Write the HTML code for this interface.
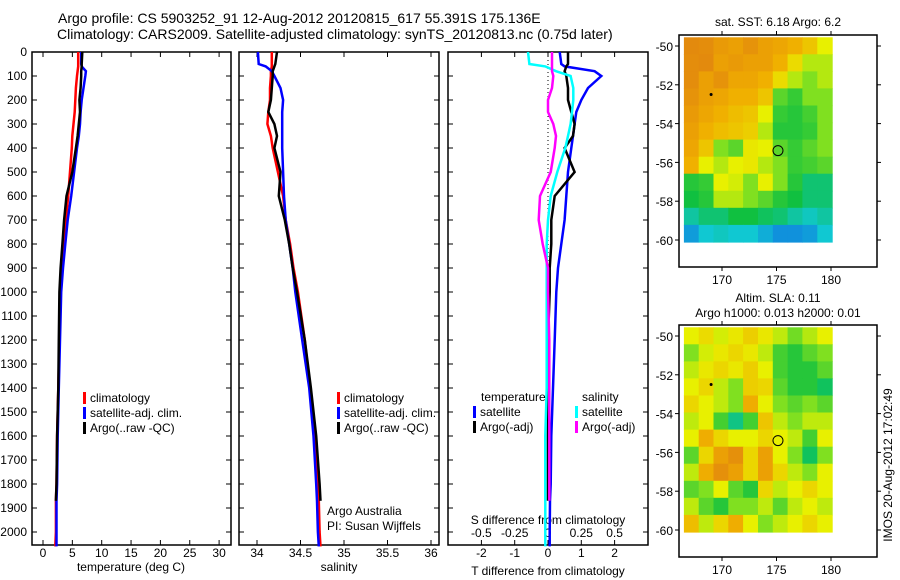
<!DOCTYPE html>
<html><head><meta charset="utf-8"><style>
body{margin:0;background:#fff;}
svg{display:block;font-family:"Liberation Sans",sans-serif;}
text{font-size:12px;fill:#000;}
</style></head><body>
<svg id="c" width="900" height="580" viewBox="0 0 900 580"></svg>
<script>
// ---- data ----
const depths = [0,50,60,80,100,150,200,250,300,350,400,500,600,700,800,900,1000,1200,1400,1600,1800,1870,2000,2060];
const tempClim = [6.0,6.0,6.0,5.9,5.8,5.6,5.5,5.4,5.2,5.0,4.9,4.6,4.3,3.9,3.5,3.2,3.0,2.8,2.6,2.4,2.3,2.2,2.2,2.1];
const tempSat  = [6.5,6.5,6.6,7.3,7.2,6.9,6.6,6.4,6.3,6.1,5.8,5.3,4.8,4.2,3.8,3.4,3.1,2.9,2.7,2.5,2.4,2.3,2.3,2.3];
const tempArgo = [6.7,6.6,6.6,6.5,6.5,6.4,6.2,6.3,6.1,5.9,5.6,5.0,4.0,3.6,3.3,3.0,2.8,2.7,2.6,2.4,2.3,2.2,null,null];
const salClim = [34.17,34.17,34.17,34.16,34.16,34.15,34.15,34.13,34.12,34.16,34.18,34.24,34.3,34.33,34.38,34.42,34.47,34.55,34.61,34.66,34.70,34.71,34.72,34.73];
const salSat  = [34.01,34.02,34.1,34.17,34.2,34.27,34.3,34.29,34.29,34.29,34.29,34.3,34.31,34.33,34.37,34.41,34.44,34.52,34.6,34.65,34.68,34.69,34.7,34.71];
const salArgo = [34.23,34.21,34.2,34.18,34.18,34.17,34.16,34.13,34.2,34.23,34.2,34.27,34.25,34.32,34.37,34.41,34.46,34.55,34.62,34.68,34.72,34.73,null,null];
const dTSat  = [0.35,0.4,0.5,1.4,1.6,1.2,1.0,0.85,0.8,0.75,0.7,0.6,0.55,0.5,0.4,0.3,0.25,0.2,0.15,0.1,0.08,0.06,0.05,0.05];
const dTArgo = [0.6,0.6,0.55,0.5,0.55,0.6,0.6,0.7,0.8,0.75,0.5,0.8,0.2,0.1,0.1,0.05,0.05,0.0,0.0,0.0,0.0,0.0,null,null];
const dSSat  = [-0.15,-0.14,-0.02,0.06,0.17,0.19,0.19,0.18,0.17,0.15,0.13,0.07,0.02,0.0,-0.01,-0.01,-0.01,-0.01,-0.01,-0.02,-0.02,-0.02,-0.02,-0.02];
const dSArgo = [0.03,0.03,0.03,0.03,0.04,0.03,0.0,0.0,0.04,0.06,0.05,0.02,-0.06,-0.07,-0.04,0.0,0.0,0.01,0.01,0.01,0.01,0.01,null,null];
const depthTicks = [0,100,200,300,400,500,600,700,800,900,1000,1100,1200,1300,1400,1500,1600,1700,1800,1900,2000];
const tempTicks = [0,5,10,15,20,25,30];
const salTicks = [34,34.5,35,35.5,36];
const dTTicks = [-2,-1,0,1,2];
const dSTicks = [-0.5,-0.25,0,0.25,0.5];
const sstGrid = [
[.87,.86,.82,.8,.84,.8,.78,.75,.7,.6],
[.86,.87,.8,.82,.8,.8,.75,.65,.55,.55],
[.86,.8,.84,.78,.78,.75,.65,.55,.5,.55],
[.84,.8,.78,.75,.75,.7,.45,.4,.5,.5],
[.82,.78,.75,.72,.7,.6,.4,.38,.42,.5],
[.8,.75,.72,.7,.68,.55,.38,.38,.4,.5],
[.78,.7,.5,.45,.62,.6,.45,.4,.45,.5],
[.75,.6,.55,.6,.62,.55,.5,.4,.42,.45],
[.38,.4,.6,.58,.5,.6,.5,.38,.3,.3],
[.35,.38,.55,.55,.5,.45,.38,.35,.3,.3],
[.25,.3,.3,.35,.35,.32,.3,.25,.22,.25],
[.12,.2,.22,.2,.2,.15,.1,.1,.12,.2]];
const slaGrid = [
[.6,.65,.58,.62,.68,.62,.56,.48,.55,.6],
[.5,.58,.62,.66,.62,.56,.42,.38,.45,.5],
[.56,.62,.66,.62,.68,.6,.42,.38,.38,.45],
[.6,.66,.56,.5,.68,.66,.45,.38,.38,.32],
[.66,.6,.56,.5,.76,.6,.5,.45,.5,.45],
[.56,.6,.42,.28,.42,.7,.56,.5,.56,.56],
[.6,.76,.66,.6,.6,.66,.6,.56,.42,.6],
[.45,.66,.8,.85,.66,.8,.6,.5,.32,.5],
[.56,.76,.85,.8,.66,.8,.66,.56,.5,.6],
[.45,.5,.6,.45,.38,.66,.56,.6,.66,.6],
[.56,.45,.38,.5,.5,.56,.45,.56,.6,.56],
[.72,.56,.66,.76,.6,.5,.56,.6,.66,.6]];
const latTicks = [-50,-52,-54,-56,-58,-60];
const lonTicks = [170,175,180];
const argoLon = 175.136, argoLat = -55.391;

// ---- drawing ----
const NS='http://www.w3.org/2000/svg', svg=document.getElementById('c');
function el(tag,attrs,parent){const e=document.createElementNS(NS,tag);for(const k in attrs)e.setAttribute(k,attrs[k]);(parent||svg).appendChild(e);return e;}
function txt(x,y,s,anchor,name){const t=el('text',{x:x,y:y,'text-anchor':anchor||'start'});t.textContent=s;


return t;}
const Y0=52, Y1=545; const yD=d=>Y0+d*0.24;
function panel(x0,x1,name){const r=el('rect',{x:x0,y:Y0,width:x1-x0,height:Y1-Y0,fill:'none',stroke:'#000','stroke-width':1.5});


depthTicks.forEach(d=>{const y=yD(d);el('line',{x1:x0,x2:x0+5,y1:y,y2:y,stroke:'#000'});el('line',{x1:x1-5,x2:x1,y1:y,y2:y,stroke:'#000'});});}
function xticks(xs,vals,fmt,ly,name,top){vals.forEach(v=>{const x=xs(v);el('line',{x1:x,x2:x,y1:Y1-5,y2:Y1,stroke:'#000'});if(top!==false)el('line',{x1:x,x2:x,y1:Y0,y2:Y0+5,stroke:'#000'});txt(x,ly,fmt(v),'middle',name);});}
function line(xs,vals,color,name){let pts=[];for(let i=0;i<depths.length;i++){if(vals[i]==null)continue;pts.push(xs(vals[i]).toFixed(1)+','+yD(depths[i]).toFixed(1));}
const p=el('polyline',{points:pts.join(' '),fill:'none',stroke:color,'stroke-width':2.5});

}
function legend(x,y,items,name){items.forEach((it,i)=>{el('rect',{x:x,y:y+i*15-10,width:3,height:12,fill:it[0]});txt(x+7,y+i*15,it[1],'start',name);});}

const t1=txt(58,23,'Argo profile: CS 5903252_91 12-Aug-2012 20120815_617 55.391S 175.136E','start','title-line-1');
t1.setAttribute('style','font-size:14px');
const t2=txt(57,39,'Climatology: CARS2009. Satellite-adjusted climatology: synTS_20120813.nc (0.75d later)','start','title-line-2');
t2.setAttribute('style','font-size:14px');

// panel 1
const xT=v=>43+v*5.87;
panel(32,231,'temperature-panel');
depthTicks.forEach(d=>txt(27,yD(d)+4,String(d),'end','depth-tick-label'));
xticks(xT,tempTicks,v=>String(v),557,'temperature-tick-label');
txt(131,571,'temperature (deg C)','middle','temperature-axis-title');
line(xT,tempClim,'#f00','temp-climatology-line');
line(xT,tempSat,'#00f','temp-satellite-line');
line(xT,tempArgo,'#000','temp-argo-line');
legend(83,402,[['#f00','climatology'],['#00f','satellite-adj. clim.'],['#000','Argo(..raw -QC)']],'temp-legend-entry');

// panel 2
const xS=v=>257+(v-34)*87;
panel(239,439,'salinity-panel');
xticks(xS,salTicks,v=>String(v),557,'salinity-tick-label');
txt(339,571,'salinity','middle','salinity-axis-title');
line(xS,salClim,'#f00','sal-climatology-line');
line(xS,salSat,'#00f','sal-satellite-line');
line(xS,salArgo,'#000','sal-argo-line');
legend(337,402,[['#f00','climatology'],['#00f','satellite-adj. clim.'],['#000','Argo(..raw -QC)']],'sal-legend-entry');
txt(327,515,'Argo Australia','start','credit-text');
txt(327,530,'PI: Susan Wijffels','start','pi-text');

// panel 3
const xDT=v=>548+v*33.3, xDS=v=>548+v*133.2;
panel(448,648,'difference-panel');
xticks(xDT,dTTicks,v=>String(v),557,'t-diff-tick-label',false);
dSTicks.forEach(v=>txt(xDS(v),537,String(v),'middle','s-diff-tick-label'));
dSTicks.forEach(v=>{const x=xDS(v);el('line',{x1:x,x2:x,y1:Y0,y2:Y0+5,stroke:'#000'});});
txt(548,524,'S difference from climatology','middle','s-diff-axis-title');
txt(548,575,'T difference from climatology','middle','t-diff-axis-title');
el('line',{x1:548,x2:548,y1:Y0,y2:yD(1000),stroke:'#000','stroke-dasharray':'1,3'});
line(xDT,dTSat,'#00f','t-diff-satellite-line');
line(xDT,dTArgo,'#000','t-diff-argo-line');
line(xDS,dSSat,'#0ff','s-diff-satellite-line');
line(xDS,dSArgo,'#f0f','s-diff-argo-line');
txt(481,401,'temperature','start','diff-legend-temperature-header');
txt(582,401,'salinity','start','diff-legend-salinity-header');
legend(473,416,[['#00f','satellite'],['#000','Argo(-adj)']],'diff-legend-temp-entry');
legend(575,416,[['#0ff','satellite'],['#f0f','Argo(-adj)']],'diff-legend-sal-entry');

// maps
const cstops=[[0,[16,90,230]],[0.2,[16,200,210]],[0.35,[16,192,64]],[0.5,[128,224,32]],[0.6,[232,240,0]],[0.75,[240,176,0]],[0.9,[224,128,16]]];
function cmap(v){for(let i=1;i<cstops.length;i++){if(v<=cstops[i][0]){const a=cstops[i-1],b=cstops[i],t=(v-a[0])/(b[0]-a[0]);return 'rgb('+a[1].map((c,k)=>Math.round(c+(b[1][k]-c)*t)).join(',')+')';}}return 'rgb(224,128,16)';}
function map(top,grid,name){const ax0=679,ax1=877,ay0=top,ay1=top+232;
const lx=v=>722+(v-170)*10.9, ly=v=>top+11+(-50-v)*19.4;
const g=el('g',{});
const lonA=166.5,lonB=180.1,latA=-49.55,latB=-60.1;const nr=grid.length,nc=grid[0].length;
grid.forEach((row,r)=>row.forEach((v,c)=>{const x0=lx(lonA+(lonB-lonA)*c/nc),x1=lx(lonA+(lonB-lonA)*(c+1)/nc),y0=ly(latA+(latB-latA)*r/nr),y1=ly(latA+(latB-latA)*(r+1)/nr);
const cell=el('rect',{x:x0.toFixed(1),y:y0.toFixed(1),width:(x1-x0+0.6).toFixed(1),height:(y1-y0+0.6).toFixed(1),fill:cmap(v)},g);

}));
const b=el('rect',{x:ax0,y:ay0,width:ax1-ax0,height:ay1-ay0,fill:'none',stroke:'#000','stroke-width':1.5},g);
latTicks.forEach(v=>{const y=ly(v);el('line',{x1:ax0-4,x2:ax0,y1:y,y2:y,stroke:'#000'});el('line',{x1:ax1,x2:ax1+4,y1:y,y2:y,stroke:'#000'});txt(673,y+5,String(v),'end','latitude-tick-label');});
lonTicks.forEach(v=>{const x=lx(v);el('line',{x1:x,x2:x,y1:ay0-4,y2:ay0,stroke:'#000'});el('line',{x1:x,x2:x,y1:ay1,y2:ay1+4,stroke:'#000'});txt(x,ay1+17,String(v),'middle','longitude-tick-label');});
el('circle',{cx:lx(169),cy:ly(-52.5),r:1.5,fill:'#000'});
const m=el('circle',{cx:lx(argoLon),cy:ly(argoLat),r:5,fill:'none',stroke:'#000'});

}
map(35,sstGrid,'sst-map');
txt(778,26,'sat. SST: 6.18 Argo: 6.2','middle','sst-map-title');
map(325,slaGrid,'sla-map');
txt(778,302,'Altim. SLA: 0.11','middle','sla-map-title');
txt(778,317,'Argo h1000: 0.013 h2000: 0.01','middle','sla-map-subtitle');
const v=txt(0,0,'IMOS 20-Aug-2012 17:02:49','middle','timestamp-text');
v.setAttribute('transform','translate(892,465) rotate(-90)');
</script>
</body></html>
